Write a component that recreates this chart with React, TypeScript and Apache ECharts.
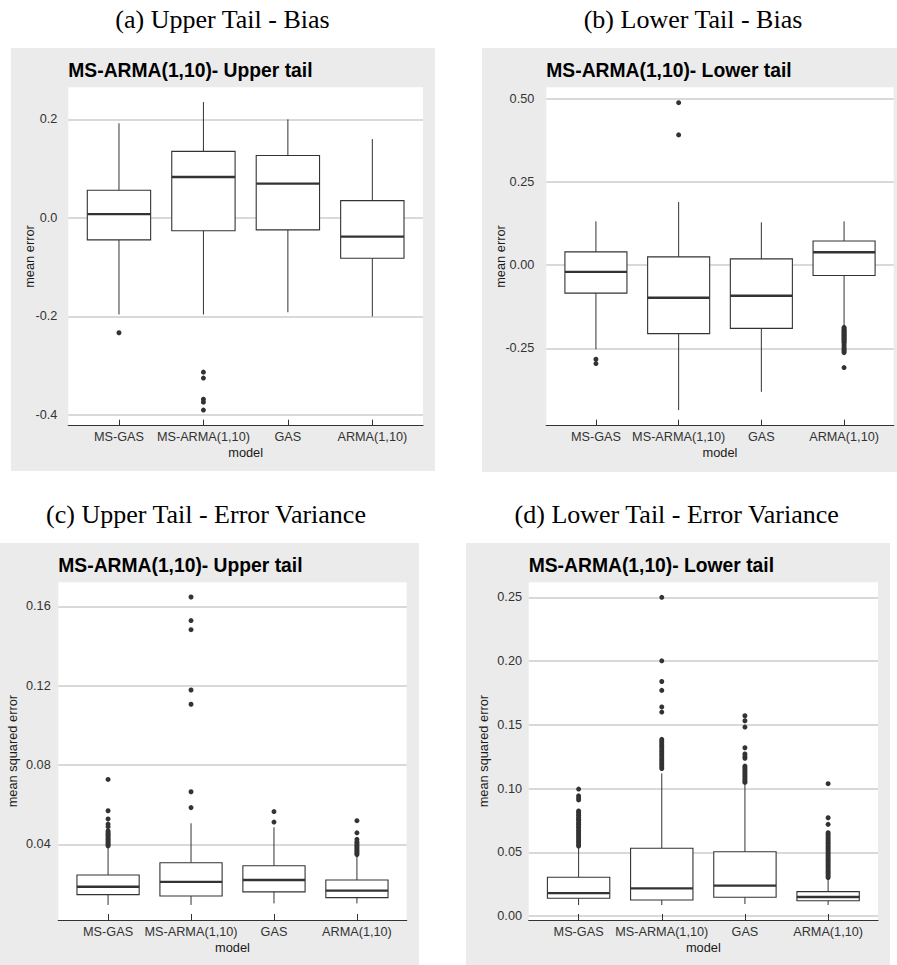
import React, { useEffect, useRef } from "react";
import * as echarts from "echarts";

const categories = ["MS-GAS", "MS-ARMA(1,10)", "GAS", "ARMA(1,10)"];

// each box: [lower whisker, Q1, median, Q3, upper whisker]
const upperBiasBoxes = [
  [-0.196, -0.0447, 0.0075, 0.056, 0.192],
  [-0.196, -0.026, 0.083, 0.135, 0.235],
  [-0.1915, -0.0244, 0.0697, 0.1265, 0.2],
  [-0.2, -0.082, -0.038, 0.035, 0.16],
];
const upperBiasOutliers = [
  [-0.233],
  [-0.313, -0.325, -0.368, -0.374, -0.39],
  [],
  [],
];
const upperBiasTicks = [-0.4, -0.2, 0, 0.2];

const lowerBiasBoxes = [
  [-0.253, -0.084, -0.02, 0.04, 0.132],
  [-0.436, -0.206, -0.098, 0.025, 0.19],
  [-0.381, -0.19, -0.092, 0.019, 0.129],
  [-0.1835, -0.031, 0.039, 0.073, 0.132],
];
const lowerBiasOutliers = [
  [-0.283, -0.296],
  [0.489, 0.392],
  [],
  [-0.187, -0.19, -0.194, -0.197, -0.2, -0.203, -0.206, -0.209, -0.212, -0.215, -0.218, -0.221, -0.224, -0.227, -0.231, -0.234, -0.24, -0.246, -0.251, -0.255, -0.259, -0.263, -0.308],
];
const lowerBiasTicks = [-0.25, 0, 0.25, 0.5];

const upperVarBoxes = [
  [0.0094, 0.0146, 0.0186, 0.0245, 0.0388],
  [0.0094, 0.0139, 0.0211, 0.0307, 0.0506],
  [0.0102, 0.016, 0.022, 0.0292, 0.0486],
  [0.0102, 0.0131, 0.0166, 0.022, 0.0344],
];
const upperVarOutliers = [
  [0.0727, 0.0569, 0.0528, 0.0502, 0.0489, 0.0467, 0.0459, 0.0452, 0.0446, 0.0439, 0.0431, 0.0425, 0.0418, 0.0411, 0.0404, 0.0398, 0.0392],
  [0.1647, 0.1528, 0.1482, 0.1178, 0.1106, 0.0665, 0.0585],
  [0.0565, 0.0512],
  [0.0519, 0.0458, 0.0425, 0.0413, 0.0406, 0.0398, 0.0391, 0.0384, 0.0376, 0.0369, 0.0362, 0.0355, 0.0348],
];
const upperVarTicks = [0.04, 0.08, 0.12, 0.16];

const lowerVarBoxes = [
  [0.0086, 0.0139, 0.018, 0.0304, 0.054],
  [0.0086, 0.0125, 0.0217, 0.0531, 0.1119],
  [0.0094, 0.0147, 0.0238, 0.0504, 0.1046],
  [0.0086, 0.012, 0.0149, 0.0191, 0.0296],
];
const lowerVarOutliers = [
  [0.0996, 0.0943, 0.0926, 0.0911, 0.0824, 0.0815, 0.0801, 0.0789, 0.0772, 0.076, 0.0747, 0.0731, 0.0719, 0.0703, 0.0692, 0.0675, 0.0661, 0.0648, 0.0633, 0.0619, 0.0605, 0.059, 0.0578, 0.0562, 0.0549],
  [0.25, 0.2002, 0.184, 0.177, 0.164, 0.16, 0.1386, 0.1372, 0.136, 0.1344, 0.1331, 0.1318, 0.1301, 0.1287, 0.1272, 0.1259, 0.1243, 0.1228, 0.1214, 0.1199, 0.1186, 0.1171, 0.1157],
  [0.1571, 0.1532, 0.1482, 0.132, 0.1271, 0.1252, 0.1237, 0.1176, 0.1163, 0.1151, 0.1137, 0.1124, 0.111, 0.1097, 0.1083, 0.107, 0.1058, 0.1048],
  [0.1038, 0.0771, 0.0719, 0.0653, 0.0641, 0.0629, 0.0615, 0.0603, 0.059, 0.0577, 0.0566, 0.0552, 0.054, 0.0527, 0.0515, 0.0502, 0.049, 0.0477, 0.0465, 0.0452, 0.044, 0.0428, 0.0415, 0.0402, 0.039, 0.0378, 0.0365, 0.0352, 0.034, 0.0327, 0.0314, 0.0302],
];
const lowerVarTicks = [0, 0.05, 0.1, 0.15, 0.2, 0.25];

const captions = [
  "(a) Upper Tail - Bias",
  "(b) Lower Tail - Bias",
  "(c) Upper Tail - Error Variance",
  "(d) Lower Tail - Error Variance",
];
const panelTitles = [
  "MS-ARMA(1,10)- Upper tail",
  "MS-ARMA(1,10)- Lower tail",
  "MS-ARMA(1,10)- Upper tail",
  "MS-ARMA(1,10)- Lower tail",
];
const yNames = ["mean error", "mean error", "mean squared error", "mean squared error"];
const xName = "model";

const SANS = "Liberation Sans, Arial, sans-serif";
const SERIF = "Liberation Serif, Times New Roman, serif";
const DARK = "#333333";

const panels = [
  {
    boxes: upperBiasBoxes, outliers: upperBiasOutliers, ticks: upperBiasTicks, decimals: 1,
    yMin: -0.4217, yMax: 0.265,
    bg: [11, 48, 424, 423], plot: [68.3, 87.3, 354.7, 338.4],
    capX: 222.5, capY: 19, titleY: 70, yNameX: 29, labelMargin: 11,
  },
  {
    boxes: lowerBiasBoxes, outliers: lowerBiasOutliers, ticks: lowerBiasTicks, decimals: 2,
    yMin: -0.4829, yMax: 0.5352,
    bg: [482, 48, 415, 424], plot: [546.3, 87.3, 347.4, 338.4],
    capX: 693, capY: 19, titleY: 70, yNameX: 500, labelMargin: 12,
  },
  {
    boxes: upperVarBoxes, outliers: upperVarOutliers, ticks: upperVarTicks, decimals: 2,
    yMin: 0.00183, yMax: 0.1721,
    bg: [0, 543, 419, 422], plot: [58.3, 582.3, 348.4, 337.7],
    capX: 206, capY: 514, titleY: 565, yNameX: 12.8, labelMargin: 7.6,
  },
  {
    boxes: lowerVarBoxes, outliers: lowerVarOutliers, ticks: lowerVarTicks, decimals: 2,
    yMin: -0.00314, yMax: 0.2618,
    bg: [466, 543, 424, 422], plot: [528.7, 582.3, 349.3, 337.7],
    capX: 676.7, capY: 514, titleY: 565, yNameX: 483.7, labelMargin: 6.7,
  },
];

function buildOption() {
  const grid: any[] = [];
  const xAxis: any[] = [];
  const yAxis: any[] = [];
  const series: any[] = [];
  const graphic: any[] = [];

  panels.forEach((p, i) => {
    const [pl, pt, pw, ph] = p.plot;
    const unit = pw / 4.2;
    const step = p.ticks[1] - p.ticks[0];
    const wide = 2 * i;
    const narrow = 2 * i + 1;

    graphic.push({
      type: "rect", z: -20, silent: true,
      shape: { x: p.bg[0], y: p.bg[1], width: p.bg[2], height: p.bg[3] },
      style: { fill: "#ebebeb" },
    });
    graphic.push({
      type: "rect", z: -10, silent: true,
      shape: { x: pl, y: pt, width: pw, height: ph },
      style: { fill: "#ffffff" },
    });
    graphic.push({
      type: "text", z: 50, x: p.capX, y: p.capY,
      style: { text: captions[i], fontFamily: SERIF, fontSize: 26, fill: "#000", align: "center", verticalAlign: "middle" },
    });
    graphic.push({
      type: "text", z: 50, x: pl, y: p.titleY,
      style: { text: panelTitles[i], fontFamily: SANS, fontSize: 19.3, fontWeight: "bold", fill: "#000", align: "left", verticalAlign: "middle" },
    });
    graphic.push({
      type: "text", z: 50, x: pl + pw / 2, y: pt + ph + 27,
      style: { text: xName, fontFamily: SANS, fontSize: 12.8, fill: "#1a1a1a", align: "center", verticalAlign: "middle" },
    });
    graphic.push({
      type: "text", z: 50, x: p.yNameX, y: pt + ph / 2, rotation: Math.PI / 2,
      style: { text: yNames[i], fontFamily: SANS, fontSize: 12.8, fill: "#1a1a1a", align: "center", verticalAlign: "middle" },
    });

    grid.push({ left: pl, top: pt, width: pw, height: ph, show: false });
    grid.push({ left: pl + 0.1 * unit, top: pt, width: 4 * unit, height: ph, show: false });

    xAxis.push({
      gridIndex: wide, type: "value", min: 0, max: 1,
      axisLine: { show: true, onZero: false, lineStyle: { color: DARK, width: 1.2 } },
      axisTick: { show: false }, axisLabel: { show: false }, splitLine: { show: false },
    });
    xAxis.push({
      gridIndex: narrow, type: "category", data: categories, boundaryGap: true,
      axisLine: { show: false, onZero: false },
      axisTick: { show: true, inside: true, length: 6, alignWithLabel: true, interval: 0, lineStyle: { color: DARK, width: 1 } },
      axisLabel: { interval: 0, margin: 5, fontFamily: SANS, fontSize: 12.7, color: DARK },
      splitLine: { show: false },
    });
    yAxis.push({
      gridIndex: wide, type: "value", min: p.yMin, max: p.yMax,
      minInterval: step, maxInterval: step,
      axisLine: { show: false }, axisTick: { show: false },
      axisLabel: {
        margin: p.labelMargin, fontFamily: SANS, fontSize: 12.7, color: DARK,
        showMinLabel: false, showMaxLabel: false,
        formatter: (v: number) => v.toFixed(p.decimals),
      },
      splitLine: { show: true, showMinLine: false, showMaxLine: false, lineStyle: { color: "#cccccc", width: 1.6 } },
    });
    yAxis.push({ gridIndex: narrow, type: "value", min: p.yMin, max: p.yMax, show: false, splitLine: { show: false } });

    series.push({
      type: "custom",
      xAxisIndex: narrow, yAxisIndex: narrow,
      data: p.boxes.map((b, k) => [k, ...b]),
      encode: { x: 0, y: [1, 2, 3, 4, 5] },
      renderItem: (params: any, api: any) => {
        const x = api.value(0);
        const low = api.coord([x, api.value(1)]);
        const q1 = api.coord([x, api.value(2)]);
        const med = api.coord([x, api.value(3)]);
        const q3 = api.coord([x, api.value(4)]);
        const high = api.coord([x, api.value(5)]);
        const band = api.size([1, 0])[0];
        const w = band * 0.75;
        const cx = low[0];
        return {
          type: "group",
          children: [
            { type: "line", shape: { x1: cx, y1: high[1], x2: cx, y2: q3[1] }, style: { stroke: DARK, lineWidth: 1 } },
            { type: "line", shape: { x1: cx, y1: q1[1], x2: cx, y2: low[1] }, style: { stroke: DARK, lineWidth: 1 } },
            { type: "rect", shape: { x: cx - w / 2, y: q3[1], width: w, height: q1[1] - q3[1] }, style: { fill: "#ffffff", stroke: DARK, lineWidth: 1.1 } },
            { type: "line", shape: { x1: cx - w / 2, y1: med[1], x2: cx + w / 2, y2: med[1] }, style: { stroke: DARK, lineWidth: 2.3 } },
          ],
        };
      },
      z: 5,
    });
    const pts: any[] = [];
    p.outliers.forEach((list, k) => list.forEach((v) => pts.push([k, v])));
    series.push({
      type: "scatter",
      xAxisIndex: narrow, yAxisIndex: narrow,
      data: pts, symbol: "circle", symbolSize: 5,
      itemStyle: { color: DARK, opacity: 1 },
      z: 6,
    });
  });

  return { animation: false, backgroundColor: "#ffffff", grid, xAxis, yAxis, series, graphic };
}

export default function App() {
  const ref = useRef<HTMLDivElement>(null);
  useEffect(() => {
    if (!ref.current) return;
    const chart = echarts.init(ref.current, undefined, { renderer: "svg" });
    chart.setOption(buildOption() as any);
    return () => chart.dispose();
  }, []);
  return (
    <div
      ref={ref}
      style={{ position: "absolute", left: 0, top: 0, width: 897, height: 965, background: "#fff" }}
    />
  );
}
